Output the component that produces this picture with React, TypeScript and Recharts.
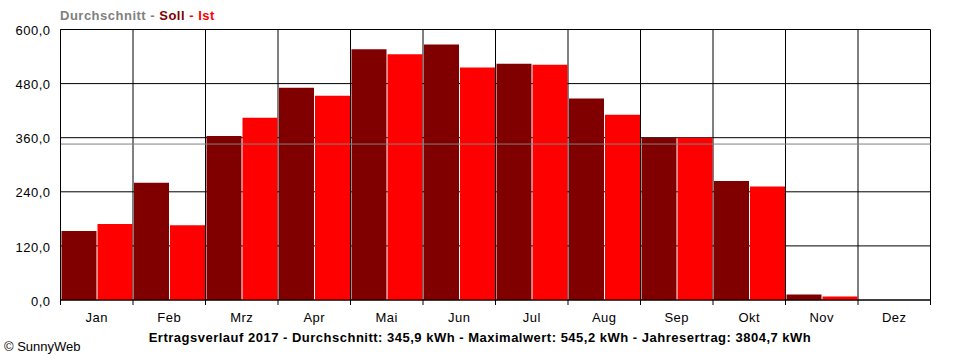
import React from "react";
import { BarChart, Bar, XAxis, YAxis, CartesianGrid, ReferenceLine } from "recharts";

const months = ["Jan", "Feb", "Mrz", "Apr", "Mai", "Jun", "Jul", "Aug", "Sep", "Okt", "Nov", "Dez"];
const sollValues = [153, 260, 364, 471, 556, 567, 524, 447, 360, 264, 12, 0];
const istValues = [168.5, 166, 404.5, 453, 545.2, 515.5, 522, 411, 360, 251.5, 7.5, 0];
const yTicks = [0, 120, 240, 360, 480, 600];
const average = 345.9;
const chartTitle = "Ertragsverlauf 2017 - Durchschnitt: 345,9 kWh - Maximalwert: 545,2 kWh - Jahresertrag: 3804,7 kWh";

const data = months.map((m, i) => ({ month: m, soll: sollValues[i], ist: istValues[i] }));

const FONT = "'Liberation Sans', Arial, sans-serif";
const Y_DOMAIN: [number, number] = [0, 600];
const MARGIN = { top: 29.5, right: 29.5, left: 0.5, bottom: 0 };
const AXIS_LINE = { stroke: "#000" };
const Y_TICK = { fill: "#000", fontSize: 13, fontFamily: FONT, letterSpacing: 0.5, dy: 1 };
const fmt = (v: number) => v.toFixed(1).replace(".", ",");

const TICK_LEN = 5;
const TICK_GAP = 8;

function MonthTick(props: any) {
  const { x, y, payload, index, visibleTicksCount } = props;
  const half = payload && payload.offset ? payload.offset : 0;
  const axisY = y - TICK_LEN - TICK_GAP;
  const isLast = index === (visibleTicksCount ?? months.length) - 1;
  return (
    <g>
      <line x1={x - half} x2={x - half} y1={axisY} y2={axisY + TICK_LEN} stroke="#000" />
      {isLast && <line x1={x + half} x2={x + half} y1={axisY} y2={axisY + TICK_LEN} stroke="#000" />}
      <text x={x} y={y} dy="0.71em" textAnchor="middle" fill="#000" fontSize={13} fontFamily={FONT} style={{ letterSpacing: 0.5 }}>
        {payload.value}
      </text>
    </g>
  );
}

const boundaryGenerator = (args: any) => {
  try {
    const scale = args && args.xAxis && args.xAxis.scale;
    if (!scale) return [];
    const bw = typeof scale.bandwidth === "function" ? scale.bandwidth() : 0;
    let map: ((v: string) => number) | null = null;
    if (typeof scale === "function") map = (v) => scale(v);
    else if (typeof scale.map === "function") map = (v) => scale.map(v);
    let pts: number[];
    if (map) {
      pts = months.map((m) => map!(m));
      pts.push(map(months[months.length - 1]) + bw);
    } else {
      const r = scale.range();
      const start = Math.min(r[0], r[1]);
      pts = months.map((_, i) => start + i * bw);
      pts.push(start + months.length * bw);
    }
    return pts.filter((p) => typeof p === "number" && !isNaN(p));
  } catch (e) {
    return [];
  }
};

export default function App() {
  return (
    <div style={{ position: "absolute", left: 0, top: 0, width: 960, height: 360, background: "#fff", fontFamily: FONT }}>
      <div style={{ position: "absolute", left: 60, top: 9, fontSize: 13, letterSpacing: 0.5, fontWeight: "bold", whiteSpace: "nowrap", lineHeight: "14px" }}>
        <span style={{ color: "#808080" }}>Durchschnitt - </span>
        <span style={{ color: "#800000" }}>Soll</span>
        <span style={{ color: "#ff0000" }}> - Ist</span>
      </div>
      <BarChart
        width={960}
        height={360}
        data={data}
        margin={MARGIN}
        barCategoryGap={1}
        barGap={1}
      >
        <CartesianGrid stroke="#000" strokeOpacity={1} verticalCoordinatesGenerator={boundaryGenerator} />
        <XAxis
          dataKey="month"
          height={60}
          axisLine={AXIS_LINE}
          tickLine={false}
          tickSize={TICK_LEN}
          tickMargin={TICK_GAP}
          interval={0}
          tick={<MonthTick />}
        />
        <YAxis
          width={60}
          domain={Y_DOMAIN}
          ticks={yTicks}
          allowDataOverflow
          axisLine={AXIS_LINE}
          tickLine={false}
          tickSize={0}
          tickMargin={10}
          tickFormatter={fmt}
          tick={Y_TICK}
        />
        <Bar dataKey="soll" fill="#800000" isAnimationActive={false} />
        <Bar dataKey="ist" fill="#ff0000" isAnimationActive={false} />
        <ReferenceLine y={average} stroke="#808080" strokeWidth={1} />
      </BarChart>
      <div style={{ position: "absolute", left: 0, width: 960, top: 331, textAlign: "center", fontSize: 13, letterSpacing: 0.5, fontWeight: "bold", whiteSpace: "nowrap", lineHeight: "14px" }}>
        {chartTitle}
      </div>
      <div style={{ position: "absolute", left: 4, top: 340, fontSize: 13, whiteSpace: "nowrap", lineHeight: "14px" }}>
        © SunnyWeb
      </div>
    </div>
  );
}
